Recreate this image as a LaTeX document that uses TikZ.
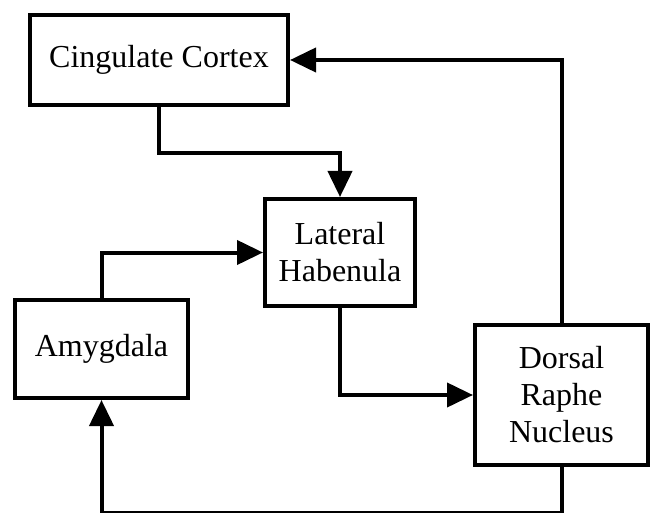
\documentclass[tikz,border=0pt]{standalone}
\usepackage{fontspec}
\setmainfont{Liberation Serif}
\usetikzlibrary{arrows.meta}
\begin{document}
\begin{tikzpicture}[x=1pt,y=-1pt,
  box/.style={draw=black,line width=4pt,fill=white,align=center,inner sep=0pt,
    font=\fontsize{32}{37}\selectfont},
  arr/.style={line width=4pt,-{Triangle[length=26pt,width=24pt]}}]
\useasboundingbox (0,0) rectangle (650,513);
\node[box,minimum width=258pt,minimum height=90pt] (cc) at (159,60) {Cingulate Cortex};
\node[box,minimum width=150pt,minimum height=107pt] (lh) at (340,252.5) {Lateral\\Habenula};
\node[box,minimum width=173pt,minimum height=98pt] (amy) at (101.5,349) {Amygdala};
\node[box,minimum width=173pt,minimum height=140pt] (dr) at (561.5,395) {Dorsal\\Raphe\\Nucleus};
\coordinate (bot) at (0,512.5);
\draw[arr] (cc.south) -- ++(0,46) -| (lh.north);
\draw[arr] (amy.north) |- (lh.west);
\draw[arr] (lh.south) |- (dr.west);
\draw[arr] (dr.north) |- (cc.east);
\draw[arr] (dr.south) -- (dr.south |- bot) -| (amy.south);
\end{tikzpicture}
\end{document}
